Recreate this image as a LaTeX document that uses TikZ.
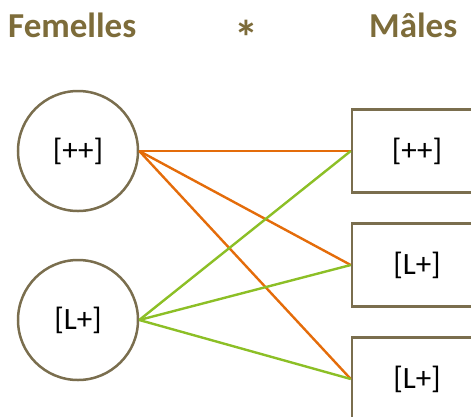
\documentclass[tikz,border=0pt]{standalone}
\usepackage{fontspec}
\setmainfont{Carlito}
\definecolor{olive}{HTML}{7D6C3A}
\definecolor{frame}{HTML}{7A6E4E}
\definecolor{orangeL}{HTML}{E46C0A}
\definecolor{greenL}{HTML}{8CBF26}
\begin{document}
\begin{tikzpicture}[x=1pt,y=-1pt,
  title/.style={font=\fontsize{35}{40}\selectfont\bfseries, text=olive, inner sep=0},
  fem/.style={circle, draw=frame, line width=2.5pt, minimum size=120pt, inner sep=0, font=\fontsize{31}{36}\selectfont},
  mal/.style={rectangle, draw=frame, line width=2.5pt, minimum width=130pt, minimum height=83pt, inner sep=0, font=\fontsize{31}{36}\selectfont},
  oline/.style={draw=orangeL, line width=2.4pt},
  gline/.style={draw=greenL, line width=2.4pt}]
\useasboundingbox (0,0) rectangle (471,416);
\clip (0,0) rectangle (471,416);
\node[title, anchor=base west] (tf) at (8,37) {Femelles};
\node[title, font=\fontsize{48}{50}\selectfont\bfseries, anchor=base] (ta) at (246,54) {*};
\node[title, anchor=base west] (tm) at (369,37) {Mâles};
\node[fem] (f1) at (78,151) {[++]};
\node[fem] (f2) at (78,320) {[L+]};
\node[mal] (m1) at (417,151) {[++]};
\node[mal] (m2) at (417,265) {[L+]};
\node[mal] (m3) at (417,379) {[L+]};
\draw[oline] (f1.east) -- (m1.west);
\draw[oline] (f1.east) -- (m2.west);
\draw[oline] (f1.east) -- (m3.west);
\draw[gline] (f2.east) -- (m1.west);
\draw[gline] (f2.east) -- (m2.west);
\draw[gline] (f2.east) -- (m3.west);
\end{tikzpicture}
\end{document}
